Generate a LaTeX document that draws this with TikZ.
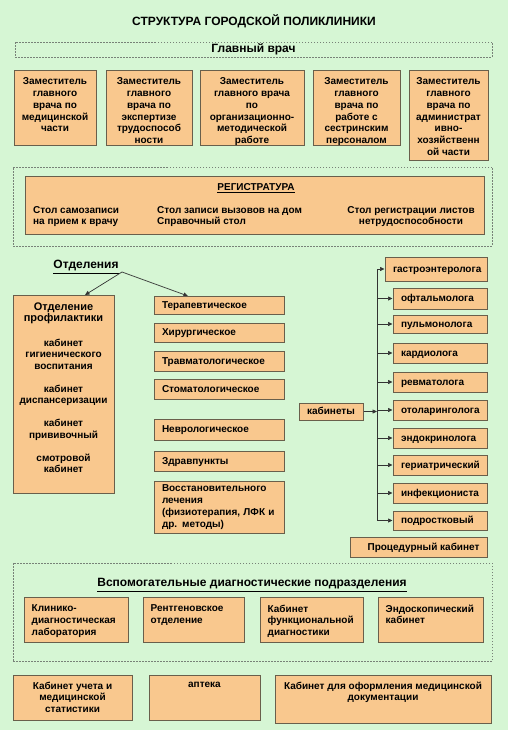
\documentclass[tikz,border=0pt]{standalone}
\usepackage{fontspec}
\setmainfont{Liberation Sans}
\usetikzlibrary{positioning, calc, arrows.meta}

\definecolor{bgcol}{RGB}{214,246,212}
\definecolor{boxfill}{RGB}{249,200,142}
\definecolor{boxline}{RGB}{105,95,75}
\definecolor{dashcol}{RGB}{120,130,120}

\begin{document}
\begin{tikzpicture}[x=1pt, y=-1pt,
    box/.style={draw=boxline, fill=boxfill, line width=1pt, inner sep=0pt, align=center,
      font=\bfseries\fontsize{10}{11.8}\selectfont},
    txt/.style={inner sep=0pt, font=\bfseries\fontsize{10}{11.8}\selectfont},
    big/.style={inner sep=0pt, font=\bfseries\fontsize{12}{14}\selectfont},
    frame/.style={draw=dashcol, line width=0.7pt, dash pattern=on 1.5pt off 1.5pt, inner sep=0pt},
    oneline/.style={text height=7pt, text depth=1pt},
    otd/.style={box, minimum width=130, text width=114, align=left},
    cab/.style={box, oneline, minimum width=94, text width=78, align=left},
    arr/.style={-{Triangle[length=4.5pt,width=4pt]}, line width=0.7pt, draw=black!80}]

  \fill[bgcol] (0,0) rectangle (508,730);
  \useasboundingbox (0,0) rectangle (508,730);

  \node[big] (title) at (254,21) {СТРУКТУРА ГОРОДСКОЙ ПОЛИКЛИНИКИ};

  % руководство
  \node[frame, big, minimum width=477, minimum height=15] (chief) at (253.5,49.5) {Главный врач};
  \node[box, minimum width=82, minimum height=75] (dep1) at (55,108.5) {};
  \node[box, minimum width=86, minimum height=75] (dep2) at (149,108.5) {};
  \node[box, minimum width=104, minimum height=75] (dep3) at (252,108.5) {};
  \node[box, minimum width=87, minimum height=75] (dep4) at (356.5,108.5) {};
  \node[box, minimum width=79, minimum height=90] (dep5) at (448.5,116) {};
  \node[txt, align=center, below=7pt of dep1.north] (dep1txt) {Заместитель\\главного\\врача по\\медицинской\\части};
  \node[txt, align=center, below=7pt of dep2.north] (dep2txt) {Заместитель\\главного\\врача по\\экспертизе\\трудоспособ\\ности};
  \node[txt, align=center, below=7pt of dep3.north] (dep3txt) {Заместитель\\главного врача\\по\\организационно-\\методической\\работе};
  \node[txt, align=center, below=7pt of dep4.north] (dep4txt) {Заместитель\\главного\\врача по\\работе с\\сестринским\\персоналом};
  \node[txt, align=center, below=7pt of dep5.north] (dep5txt) {Заместитель\\главного\\врача по\\администрат\\ивно-\\хозяйственн\\ой части};

  % регистратура
  \node[frame, minimum width=479, minimum height=79] (regframe) at (252.5,206.5) {};
  \node[box, minimum width=459, minimum height=57] (reg) at (254.5,205.5) {};
  \node[txt] (regtitle) at (256,188) {\underline{РЕГИСТРАТУРА}};
  \node[txt, align=left, anchor=north west] (selfrec) at (33,206) {Стол самозаписи\\на прием к врачу};
  \node[txt, align=left, anchor=north west] (homecall) at (157,206) {Стол записи вызовов на дом\\Справочный стол};
  \node[txt, align=center, anchor=north] (sicklist) at (411,206) {Стол регистрации листов\\нетрудоспособности};

  % отделения
  \node[big] (otdel) at (86,267) {\underline{Отделения}};
  \coordinate (fork) at (122,272);
  \coordinate (profin) at (85,295);
  \coordinate (terin) at (188,296);
  \draw[arr] (fork) -- (profin);
  \draw[arr] (fork) -- (terin);

  \node[box, minimum width=101, minimum height=198] (prof) at (63.5,394) {};
  \node[txt, font=\bfseries\fontsize{11}{11.5}\selectfont, align=center, below=8pt of prof.north] (profhead) {Отделение\\профилактики};
  \node[txt, font=\bfseries\fontsize{10}{11.5}\selectfont, align=center, below=14.5pt of profhead] (proflist)
    {кабинет\\гигиенического\\воспитания\\[11.5pt]кабинет\\диспансеризации\\[11.5pt]кабинет\\прививочный\\[11.5pt]смотровой\\кабинет};

  \node[otd, oneline, minimum height=18] (ter) at (219,305) {Терапевтическое};
  \node[otd, oneline, minimum height=19] (hir) at (219,332.5) {Хирургическое};
  \node[otd, oneline, minimum height=20] (trav) at (219,361) {Травматологическое};
  \node[otd, oneline, minimum height=20] (stom) at (219,389) {Стоматологическое};
  \node[otd, oneline, minimum height=21] (nevr) at (219,429.5) {Неврологическое};
  \node[otd, oneline, minimum height=20] (zdrav) at (219,461) {Здравпункты};
  \node[otd, minimum height=52] (vost) at (219,507) {Восстановительного\\лечения\\(физиотерапия, ЛФК и\\др. методы)};

  % кабинеты
  \node[box, oneline, minimum width=64, minimum height=17] (kab) at (331,411.5) {кабинеты};
  \node[box, oneline, minimum width=102, minimum height=24, text width=86, align=left] (gastro) at (436,269) {гастроэнтеролога};
  \node[cab, minimum height=21] (oft) at (440,298.5) {офтальмолога};
  \node[cab, minimum height=18] (pulm) at (440,324) {пульмонолога};
  \node[cab, minimum height=20] (kard) at (440,353) {кардиолога};
  \node[cab, minimum height=20] (revm) at (440,382) {ревматолога};
  \node[cab, minimum height=20] (otol) at (440,410) {отоларинголога};
  \node[cab, minimum height=20] (endo) at (440,438) {эндокринолога};
  \node[cab, minimum height=20] (geri) at (440,465) {гериатрический};
  \node[cab, minimum height=20] (infek) at (440,493) {инфекциониста};
  \node[cab, minimum height=19] (podr) at (440,520.5) {подростковый};
  \node[box, oneline, minimum width=137, minimum height=20] (proc) at (418.5,547) {\hspace*{10pt}Процедурный кабинет};

  \coordinate (ttop) at (377,269);
  \coordinate (tbot) at (377,520.5);
  \draw[line width=0.7pt, draw=black!80] (ttop) -- (tbot);
  \draw[arr] (kab.east) -- (kab.east -| ttop);
  \foreach \n in {gastro,oft,pulm,kard,revm,otol,endo,geri,infek,podr}
    \draw[arr] (\n.west -| ttop) -- (\n.west);

  % вспомогательные подразделения
  \node[frame, minimum width=479, minimum height=98] (diagframe) at (252.5,612) {};
  \node[big] (diagtitle) at (252,585) {\underline{Вспомогательные диагностические подразделения}};
  \node[box, minimum width=104, minimum height=45] (lab) at (76,619.5) {};
  \node[box, minimum width=101, minimum height=45] (rent) at (193.5,619.5) {};
  \node[box, minimum width=103, minimum height=45] (func) at (311.5,619.5) {};
  \node[box, minimum width=105, minimum height=45] (endosk) at (430.5,619.5) {};
  \node[txt, align=left, below right=8pt and 8pt of lab.north west] (labtxt) {Клинико-\\диагностическая\\лаборатория};
  \node[txt, align=left, below right=8pt and 8pt of rent.north west] (renttxt) {Рентгеновское\\отделение};
  \node[txt, align=left, below right=8pt and 8pt of func.north west] (functxt) {Кабинет\\функциональной\\диагностики};
  \node[txt, align=left, below right=8pt and 8pt of endosk.north west] (endosktxt) {Эндоскопический\\кабинет};

  % прочие службы
  \node[box, minimum width=119, minimum height=45] (uchet) at (72.5,697.5) {};
  \node[box, minimum width=111, minimum height=45] (apteka) at (204.5,697.5) {};
  \node[box, minimum width=216, minimum height=48] (oform) at (383,699) {};
  \node[txt, align=center, below=7pt of uchet.north] (uchettxt) {Кабинет учета и\\медицинской\\статистики};
  \node[txt, align=center, below=7pt of apteka.north] (aptekatxt) {аптека};
  \node[txt, align=center, below=7pt of oform.north] (oformtxt) {Кабинет для оформления медицинской\\документации};
\end{tikzpicture}
\end{document}
